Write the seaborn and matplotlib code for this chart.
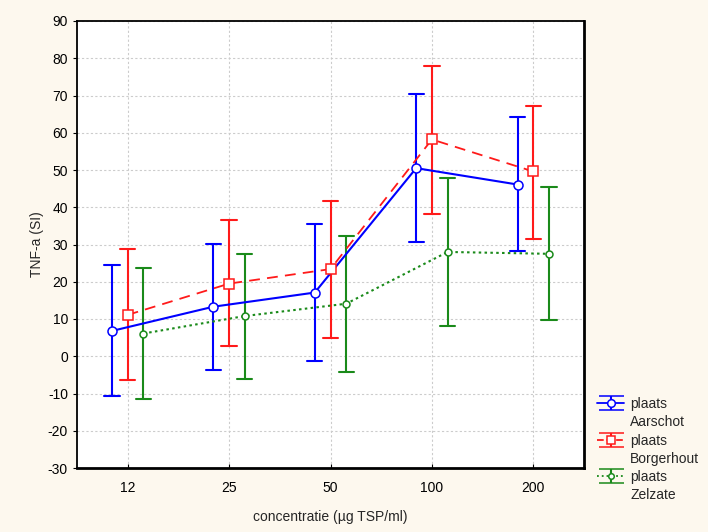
import numpy as np
import pandas as pd
import matplotlib
matplotlib.use("Agg")
import matplotlib.pyplot as plt
import seaborn as sns

# ---- data ----
concentrations = ["12", "25", "50", "100", "200"]
groups = ["plaats Aarschot", "plaats Borgerhout", "plaats Zelzate"]
legend_first = ["plaats", "plaats", "plaats"]
legend_second = ["Aarschot", "Borgerhout", "Zelzate"]

aarschot_mean = [6.8, 13.3, 17.1, 50.5, 46.1]
aarschot_lo = [-10.8, -3.6, -1.2, 30.8, 28.3]
aarschot_hi = [24.5, 30.2, 35.6, 70.3, 64.3]

borgerhout_mean = [11.1, 19.5, 23.4, 58.2, 49.6]
borgerhout_lo = [-6.5, 2.8, 4.9, 38.3, 31.5]
borgerhout_hi = [28.7, 36.5, 41.6, 78.0, 67.3]

zelzate_mean = [6.1, 10.8, 14.1, 28.0, 27.5]
zelzate_lo = [-11.4, -6.1, -4.3, 8.2, 9.7]
zelzate_hi = [23.7, 27.5, 32.2, 47.9, 45.4]

y_ticks = [-30, -20, -10, 0, 10, 20, 30, 40, 50, 60, 70, 80, 90]

colors = ["#0000ff", "#ff1a1a", "#1a8a1a"]

# long table: lo / mean / hi per cell; median -> mean, min/max -> interval
rows = []
series = [(aarschot_lo, aarschot_mean, aarschot_hi),
          (borgerhout_lo, borgerhout_mean, borgerhout_hi),
          (zelzate_lo, zelzate_mean, zelzate_hi)]
for g, (lo, mu, hi) in zip(groups, series):
    for c, a, m, b in zip(concentrations, lo, mu, hi):
        for v in (a, m, b):
            rows.append({"concentratie": c, "plaats": g, "TNF": v})
df = pd.DataFrame(rows)

sns.set_style("white")
plt.rcParams["font.family"] = ["Liberation Sans", "DejaVu Sans"]

fig = plt.figure(figsize=(7.08, 5.32), dpi=100, facecolor="#fdf8ee")
ax = fig.add_axes([77 / 708, 1 - 468 / 532, (584 - 77) / 708, (468 - 21) / 532])
ax.set_facecolor("white")

sns.pointplot(
    data=df, x="concentratie", y="TNF", hue="plaats",
    order=concentrations, hue_order=groups, palette=colors,
    estimator="median", errorbar=lambda v: (np.min(v), np.max(v)),
    dodge=0.31, markers=["o", "s", "o"], linestyles=["-", "--", ":"],
    capsize=0.15, err_kws={"linewidth": 1.5}, linewidth=1.5,
    legend=False, ax=ax,
)

sizes = {colors[0]: 6.5, colors[1]: 7, colors[2]: 5}
for ln in ax.lines:
    mk = ln.get_marker()
    if mk not in (None, "None", "", " "):
        col = matplotlib.colors.to_hex(ln.get_color())
        ln.set_markerfacecolor("white")
        ln.set_markeredgewidth(1.1)
        ln.set_markersize(sizes.get(col, 6))
        ln.set_zorder(4)
        if ln.get_linestyle() == "--":
            ln.set_linewidth(1.3)
            ln.set_dashes([6, 4])
        elif ln.get_linestyle() == ":":
            ln.set_linewidth(1.5)
            ln.set_dashes([1.2, 1.6])

ax.set_xlim(-0.5, 4.5)
ax.set_ylim(-30, 90)
ax.set_yticks(y_ticks)
ax.set_yticklabels([str(t) for t in y_ticks])
ax.grid(True, color="#cccccc", linestyle=(0, (2, 2)), linewidth=0.8)
ax.set_axisbelow(True)
for name, s in ax.spines.items():
    s.set_color("black")
    s.set_visible(True)
    s.set_linewidth(2.0 if name in ("right", "bottom") else 1.3)
ax.tick_params(axis="both", labelsize=10, colors="black", length=3, width=0.8)
ax.tick_params(axis="y", direction="out", left=True)
ax.tick_params(axis="x", direction="in", bottom=True, pad=9)
ax.set_xlabel("concentratie (µg TSP/ml)", fontsize=10, labelpad=11)
ax.set_ylabel("TNF-a (SI)", fontsize=10, labelpad=3)

# legend proxies
handles = []
for col, mk, ls in zip(colors, ["o", "s", "o"], ["-", "--", ":"]):
    h = ax.errorbar([np.nan], [np.nan], yerr=[[1], [1]], color=col, marker=mk,
                    linestyle=ls, mfc="white", ms=sizes[col] - 1, mew=1.1,
                    capsize=9, elinewidth=1.5, capthick=1.5, linewidth=1.3)
    handles.append(h)
leg = fig.legend(handles=handles, labels=legend_first, loc="upper left",
                 bbox_to_anchor=(597 / 708, 1 - 397 / 532), frameon=False,
                 fontsize=10, handlelength=1.95, handletextpad=0.45,
                 labelspacing=1.63, borderaxespad=0, borderpad=0)

fig.canvas.draw()
inv = fig.transFigure.inverted()
for t, second in zip(leg.get_texts(), legend_second):
    bb = t.get_window_extent()
    x0, y0 = inv.transform((bb.x0, bb.y0 - 18))
    fig.text(x0, y0, second, fontsize=10, ha="left", va="bottom")

fig.savefig("out.png", dpi=100, facecolor=fig.get_facecolor())
